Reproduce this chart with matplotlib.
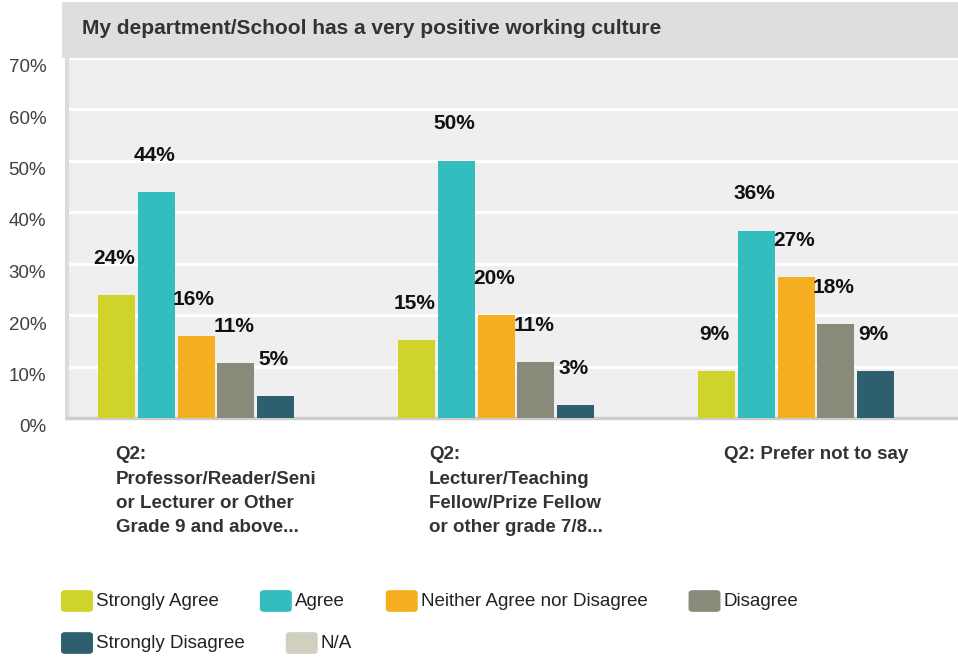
import matplotlib
matplotlib.use("Agg")
import matplotlib.pyplot as plt
from matplotlib.patches import Rectangle, FancyBboxPatch
from matplotlib.transforms import ScaledTranslation
import numpy as np

# ---------------- data ----------------
title = "My department/School has a very positive working culture"
categories = [
    "Q2:\nProfessor/Reader/Seni\nor Lecturer or Other\nGrade 9 and above...",
    "Q2:\nLecturer/Teaching\nFellow/Prize Fellow\nor other grade 7/8...",
    "Q2: Prefer not to say",
]
series = ["Strongly Agree", "Agree", "Neither Agree nor Disagree", "Disagree",
          "Strongly Disagree", "N/A"]
strongly_agree = [23.9, 15.1, 9.1]
agree = [43.9, 50.0, 36.4]
neither = [15.9, 20.0, 27.3]
disagree = [10.7, 10.9, 18.2]
strongly_disagree = [4.3, 2.5, 9.1]
na = [0.0, 0.0, 0.0]
# rounded value labels shown on the chart (None = no label)
label_sa = [24, 15, 9]
label_agree = [44, 50, 36]
label_neither = [16, 20, 27]
label_disagree = [11, 11, 18]
label_sd = [5, 3, 9]
label_na = [None, None, None]
yticks = [0, 10, 20, 30, 40, 50, 60, 70]

values = [strongly_agree, agree, neither, disagree, strongly_disagree, na]
labels = [label_sa, label_agree, label_neither, label_disagree, label_sd, label_na]
colors = ["#D0D42A", "#33BDBF", "#F6AE21", "#8A8A7A", "#2E5F6E", "#D0CFC0"]

# ---------------- layout ----------------
W, H = 958, 658
DPI = 100
FONT = "Liberation Sans"
plt.rcParams["font.family"] = [FONT, "DejaVu Sans"]

fig = plt.figure(figsize=(W / DPI, H / DPI), dpi=DPI)
fig.patch.set_facecolor("white")

def fx(px):
    return px / W

def fy(py):
    return 1 - py / H

# title box
fig.patches.append(Rectangle((fx(62), fy(57.5)), fx(958) - fx(62), fy(2) - fy(57.5),
                             transform=fig.transFigure, facecolor="#DEDEDE",
                             edgecolor="none", zorder=0))
fig.text(fx(82), fy(28.5), title, fontsize=15, fontweight="bold", color="#333333",
         ha="left", va="center")

ax_left, ax_right, ax_top, ax_bottom = 67, 958, 57.5, 418
ax = fig.add_axes([fx(ax_left), fy(ax_bottom), fx(ax_right) - fx(ax_left),
                   fy(ax_top) - fy(ax_bottom)])
ax.set_facecolor("#EFEFEF")

group_px = 300.0
step = 39.75 / group_px
width = 37.0 / group_px
x = np.arange(len(categories))
n = len(series)
for k, (vals, labs, c, name) in enumerate(zip(values, labels, colors, series)):
    pos = x + (k - (n - 1) / 2) * step
    ax.bar(pos, vals, width=width, color=c, label=name, zorder=3, linewidth=0)
    for xp, v, lab in zip(pos, vals, labs):
        if lab is None:
            continue
        ax.annotate(f"{lab}%", (xp, v), xytext=(-1.5, 26.5), textcoords="offset points",
                    ha="center", va="center", fontsize=15, fontweight="bold",
                    color="#111111", zorder=4)

ax.set_ylim(0, 70)
ax.set_xlim((ax_left - 216) / group_px, (ax_right - 216) / group_px)
ax.set_yticks(yticks)
ax.set_yticklabels([f"{t}%" for t in yticks])
ax.yaxis.grid(True, color="white", linewidth=2.2, zorder=1)
ax.set_axisbelow(True)
ax.tick_params(axis="y", length=0, pad=15, labelsize=13.5, labelcolor="#404040")
ax.tick_params(axis="x", length=0, labelbottom=False)
off = ScaledTranslation(0, -8 / DPI, fig.dpi_scale_trans)
for lbl in ax.get_yticklabels():
    lbl.set_transform(lbl.get_transform() + off)
for s in ["top", "right"]:
    ax.spines[s].set_visible(False)
ax.spines["left"].set_color("#DCDCDC")
ax.spines["left"].set_linewidth(3)
ax.spines["bottom"].set_color("#CCCCCC")
ax.spines["bottom"].set_linewidth(2.5)

# category labels
for i, cat in enumerate(categories):
    ax.annotate(cat, (i, 0), xytext=(0, -20.5), textcoords="offset points",
                ha="center", va="top", multialignment="left", fontsize=13.5,
                fontweight="bold", color="#333333", linespacing=1.56,
                annotation_clip=False)

# legend (flow layout)
renderer = fig.canvas.get_renderer()
lx, ly = 62.0, 601.0
row_h = 42.0
patch_w, patch_h = 30.0, 21.0
gap_text = 4.0
gap_item = 42.0
for name, c in zip(series, colors):
    t = fig.text(0, 0, name, fontsize=13.5, color="#222222", ha="left", va="center")
    tw = t.get_window_extent(renderer).width
    item_w = patch_w + gap_text + tw
    if lx + item_w > W - 20:
        lx = 62.0
        ly += row_h
    fig.patches.append(FancyBboxPatch((fx(lx + 2), fy(ly + patch_h / 2 - 2)),
                                      fx(patch_w - 4), (patch_h - 4) / H,
                                      boxstyle="round,pad=0.002,rounding_size=0.003",
                                      transform=fig.transFigure, facecolor=c,
                                      edgecolor=c, linewidth=1.5))
    t.set_position((fx(lx + patch_w + gap_text), fy(ly)))
    lx += item_w + gap_item

fig.savefig("out.png", dpi=DPI, facecolor="white")
